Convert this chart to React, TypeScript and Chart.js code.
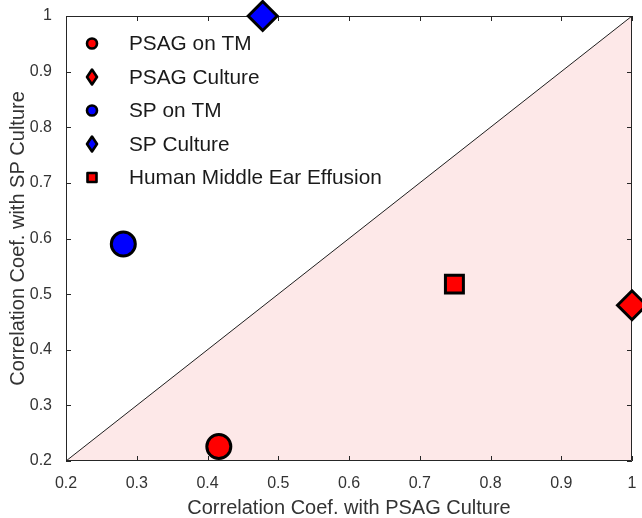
import React, { useEffect, useRef } from 'react';
import { Chart, registerables } from 'chart.js';

Chart.register(...registerables);

// ---------- data ----------
const seriesNames = ['PSAG on TM', 'PSAG Culture', 'SP on TM', 'SP Culture', 'Human Middle Ear Effusion'];
const xValues = [0.416, 1.0, 0.281, 0.478, 0.749];
const yValues = [0.226, 0.48, 0.59, 1.0, 0.518];

const diagonalX = [0.2, 1.0];
const diagonalY = [0.2, 1.0];

const xTickValues = [0.2, 0.3, 0.4, 0.5, 0.6, 0.7, 0.8, 0.9, 1.0];
const xTickLabels = ['0.2', '0.3', '0.4', '0.5', '0.6', '0.7', '0.8', '0.9', '1'];
const yTickValues = [0.2, 0.3, 0.4, 0.5, 0.6, 0.7, 0.8, 0.9, 1.0];
const yTickLabels = ['0.2', '0.3', '0.4', '0.5', '0.6', '0.7', '0.8', '0.9', '1'];

const xTitle = 'Correlation Coef. with PSAG Culture';
const yTitle = 'Correlation Coef. with SP Culture';

// ---------- styles ----------
const markerShapes = ['circle', 'rectRot', 'circle', 'rectRot', 'rect'];
const markerColors = ['#ff0000', '#ff0000', '#0000ff', '#0000ff', '#ff0000'];
const markerRadii: Record<string, number> = { circle: 12, rectRot: 14.5, rect: 12.7 };
const FONT = "'Liberation Sans', Arial, Helvetica, sans-serif";
const AXIS_COLOR = '#262626';

function drawLegendMarker(ctx: CanvasRenderingContext2D, shape: string, x: number, y: number, color: string) {
  ctx.save();
  ctx.beginPath();
  if (shape === 'circle') {
    ctx.arc(x, y, 5, 0, Math.PI * 2);
  } else if (shape === 'rectRot') {
    ctx.moveTo(x, y - 7.5);
    ctx.lineTo(x + 5, y);
    ctx.lineTo(x, y + 7.5);
    ctx.lineTo(x - 5, y);
    ctx.closePath();
  } else {
    ctx.rect(x - 4.5, y - 4.5, 9, 9);
  }
  ctx.fillStyle = color;
  ctx.fill();
  ctx.lineWidth = 2.6;
  ctx.lineJoin = 'round';
  ctx.strokeStyle = '#000';
  ctx.stroke();
  ctx.restore();
}

const boxPlugin = {
  id: 'matlabBox',
  beforeDatasetsDraw(chart: any) {
    const { ctx, chartArea } = chart;
    const { left, right, top, bottom } = chartArea;
    const xs = chart.scales.x;
    const ys = chart.scales.y;
    const tl = 5;
    ctx.save();
    ctx.strokeStyle = AXIS_COLOR;
    ctx.lineWidth = 1;
    ctx.beginPath();
    ctx.rect(left + 0.5, top + 0.5, right - left - 1, bottom - top - 1);
    ctx.stroke();
    ctx.beginPath();
    xTickValues.forEach((v) => {
      const px = Math.round(xs.getPixelForValue(v)) + 0.5;
      ctx.moveTo(px, bottom);
      ctx.lineTo(px, bottom - tl);
      ctx.moveTo(px, top);
      ctx.lineTo(px, top + tl);
    });
    yTickValues.forEach((v) => {
      const py = Math.round(ys.getPixelForValue(v)) + 0.5;
      ctx.moveTo(left, py);
      ctx.lineTo(left + tl, py);
      ctx.moveTo(right, py);
      ctx.lineTo(right - tl, py);
    });
    ctx.stroke();
    ctx.restore();
  },
};

const legendPlugin = {
  id: 'insideLegend',
  afterDraw(chart: any) {
    const { ctx } = chart;
    const markerX = 92;
    const textX = 129;
    const startY = 43.5;
    const step = 33.5;
    ctx.save();
    ctx.font = `20.8px ${FONT}`;
    ctx.fillStyle = '#1a1a1a';
    ctx.textBaseline = 'middle';
    ctx.textAlign = 'left';
    seriesNames.forEach((name, i) => {
      const y = startY + i * step;
      drawLegendMarker(ctx, markerShapes[i], markerX, y, markerColors[i]);
      ctx.fillText(name, textX, y + 1);
    });
    ctx.restore();
  },
};

export default function App() {
  const canvasRef = useRef<HTMLCanvasElement>(null);

  useEffect(() => {
    const canvas = canvasRef.current;
    if (!canvas) return;

    const pointDatasets = seriesNames.map((name, i) => ({
      type: 'scatter' as const,
      label: name,
      data: [{ x: xValues[i], y: yValues[i] }],
      pointStyle: markerShapes[i],
      pointRadius: markerRadii[markerShapes[i]],
      pointBackgroundColor: markerColors[i],
      pointBorderColor: '#000',
      pointBorderWidth: 3,
      showLine: false,
      clip: false as any,
      order: 0,
    }));

    const chart = new Chart(canvas, {
      type: 'scatter',
      data: {
        datasets: [
          {
            type: 'line',
            label: 'diagonal',
            data: diagonalX.map((x, i) => ({ x, y: diagonalY[i] })),
            borderColor: '#1f1f1f',
            borderWidth: 1,
            backgroundColor: 'rgb(253, 232, 232)',
            fill: 'start',
            pointRadius: 0,
            order: 10,
          } as any,
          ...pointDatasets,
        ],
      },
      options: {
        animation: false,
        responsive: false,
        events: [],
        layout: { autoPadding: false, padding: { left: 0, right: 10, top: 16, bottom: 0 } } as any,
        plugins: {
          legend: { display: false },
          tooltip: { enabled: false },
          filler: { drawTime: 'beforeDraw' } as any,
        },
        scales: {
          x: {
            type: 'linear',
            min: 0.2,
            max: 1,
            grid: { display: false },
            border: { display: false },
            afterBuildTicks: (scale: any) => {
              scale.ticks = xTickValues.map((v) => ({ value: v }));
            },
            afterFit: (scale: any) => {
              scale.height = 57;
            },
            ticks: {
              autoSkip: false,
              maxRotation: 0,
              padding: 5,
              color: '#333',
              font: { family: FONT, size: 16 },
              callback: (value: any) => {
                const idx = xTickValues.findIndex((v) => Math.abs(v - Number(value)) < 1e-9);
                return idx >= 0 ? xTickLabels[idx] : '';
              },
            },
            title: {
              display: true,
              text: xTitle,
              color: '#333',
              font: { family: FONT, size: 20, lineHeight: 1 },
              padding: { top: 0, bottom: 0 },
            },
          },
          y: {
            type: 'linear',
            min: 0.2,
            max: 1,
            grid: { display: false },
            border: { display: false },
            afterBuildTicks: (scale: any) => {
              scale.ticks = yTickValues.map((v) => ({ value: v }));
            },
            afterFit: (scale: any) => {
              scale.width = 66;
            },
            ticks: {
              autoSkip: false,
              padding: 6,
              color: '#333',
              font: { family: FONT, size: 16 },
              callback: (value: any) => {
                const idx = yTickValues.findIndex((v) => Math.abs(v - Number(value)) < 1e-9);
                return idx >= 0 ? yTickLabels[idx] : '';
              },
            },
            title: {
              display: true,
              text: yTitle,
              color: '#333',
              font: { family: FONT, size: 20, lineHeight: 1 },
              padding: { top: 8, bottom: 0 },
            },
          },
        },
      },
      plugins: [boxPlugin, legendPlugin],
    });

    return () => {
      chart.destroy();
    };
  }, []);

  return (
    <div style={{ position: 'absolute', left: 0, top: 0, width: 642, height: 518, background: '#fff' }}>
      <canvas ref={canvasRef} width={642} height={518} style={{ display: 'block' }} />
    </div>
  );
}
